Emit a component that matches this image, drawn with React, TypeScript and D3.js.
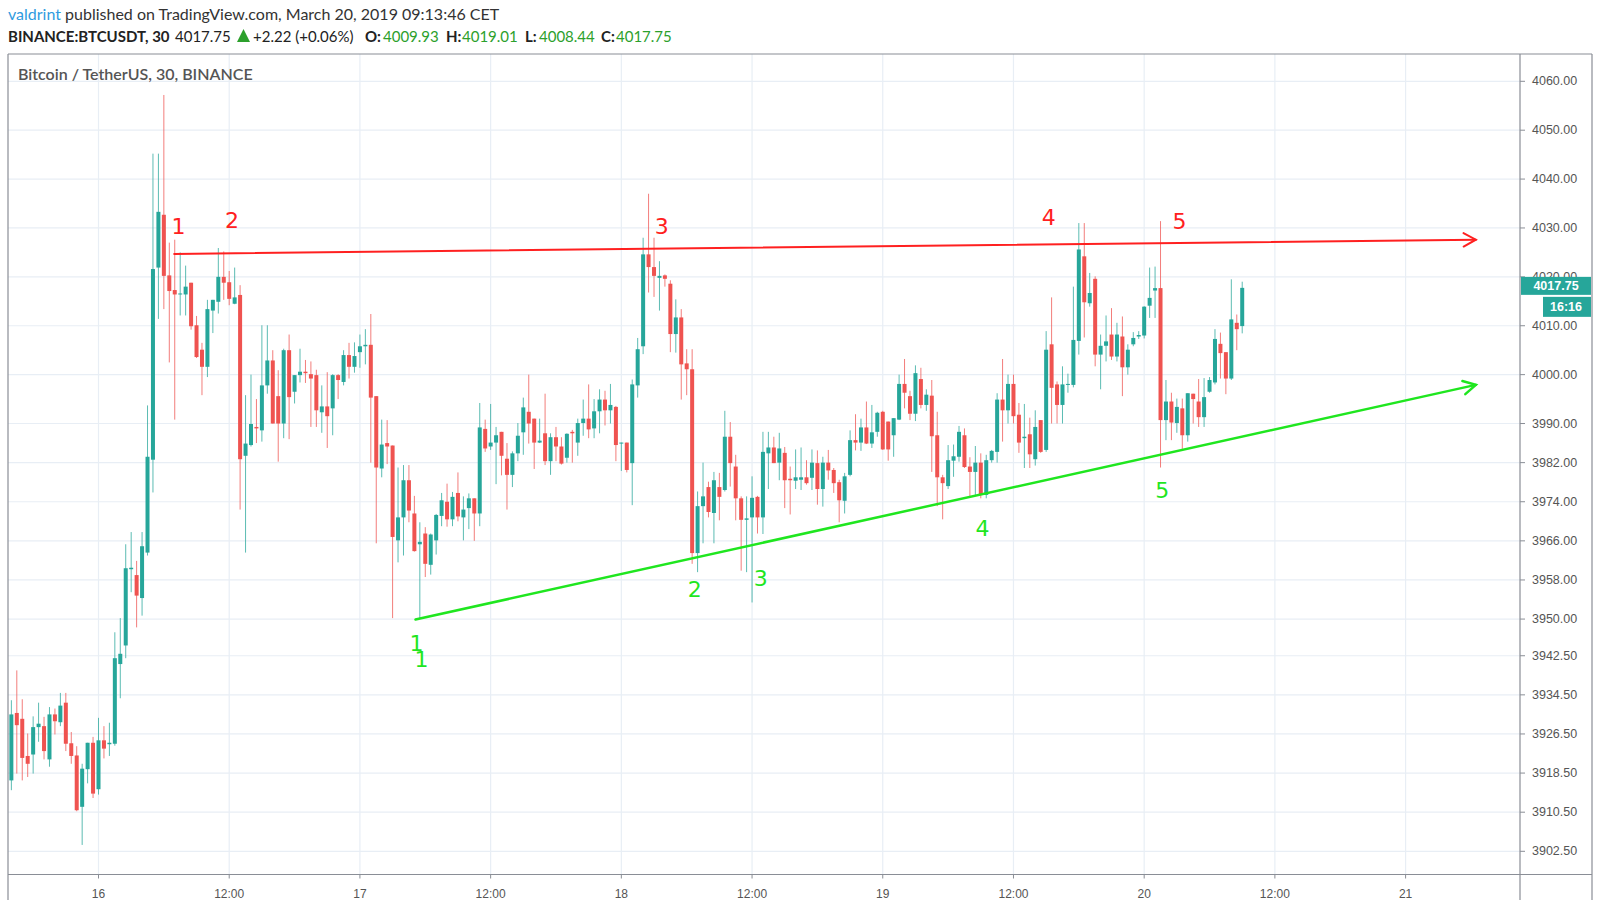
import React from "react";
import * as d3 from "d3";

// ---- data: 30-minute BTCUSDT candles, first candle 2019-03-15 16:00 ----
const firstCandle = Date.UTC(2019, 2, 15, 16, 0);
const candleMs = 30 * 60 * 1000;

const opens = [
  3917, 3930.8, 3929.6, 3922, 3922.3, 3927.9, 3928.1, 3921.3, 3930.5, 3928.9, 3932.9, 3924.6, 3922.1, 3911.6, 3919.3, 3924.7,
  3915.2, 3925.2, 3924.4, 3924.5, 3940.8, 3944.6, 3960.2, 3959, 3954.3, 3963.6, 3982.6, 4021.9, 4032.7, 4020.3, 4017.3, 4016.4,
  4016.4, 4018.8, 4010.1, 4005.1, 4001.6, 4013.1, 4014.9, 4020, 4018.9, 4014.5, 4016.3, 3983.4, 3985.6, 3989.3, 3988.6, 3997.8,
  4002.9, 3995.6, 3990, 4005, 3996.5, 3999.9, 4000.6, 4000.1, 3999.9, 3992.3, 3993.5, 3993.1, 3999.9, 3998.5, 4004, 4001.6,
  4004.6, 4005.8, 4006.1, 3995.6, 3980.8, 3986, 3985.5, 3966.1, 3970.8, 3978.4, 3971.6, 3965.3, 3967.5, 3961.1, 3966.1, 3971.1,
  3974, 3970.4, 3975.8, 3970.8, 3972.7, 3974.7, 3971.6, 3988.9, 3985.3, 3986.1, 3988.3, 3982.8, 3979.5, 3983.9, 3988.2, 3992.4,
  3991, 3986.1, 3988, 3982.3, 3987.2, 3985.3, 3983, 3988.3, 3986.1, 3990.1, 3991, 3989, 3992.5, 3994.9, 3992.7, 3993.4,
  3986, 3986.1, 3981.9, 3997.8, 4005.8, 4024.6, 4022, 4019.8, 4020.3, 4018.6, 4008.3, 4011.7, 4002.3, 4001.1, 3963.5, 3973.1,
  3977, 3971.7, 3977, 3976.4, 3987.3, 3981.2, 3974.7, 3970.3, 3970.8, 3975, 3970.8, 3983.9, 3985.1, 3982, 3984, 3978.7,
  3978.3, 3978.5, 3979, 3978.9, 3981.9, 3976.6, 3982, 3980.5, 3978, 3974.2, 3979.5, 3986.6, 3986.1, 3989.2, 3985.9, 3988.3,
  3992.4, 3990.4, 3987.6, 3990.8, 3998.1, 3995.6, 3992, 3999.1, 3993.8, 3995.7, 3987.6, 3979, 3977.2, 3982.4, 3983.2, 3987.6,
  3981.2, 3980.1, 3982, 3975.4, 3982.5, 3984.2, 3994.9, 3992.7, 3998.1, 3991.8, 3987, 3987.8, 3982.7, 3990.7, 3984.6, 4006.2,
  3998, 3993.8, 3998, 3997.9, 4006.9, 4024.2, 4014.6, 4019.6, 4004.1, 4005.9, 4008.2, 4003.7, 4007.8, 4001.5, 4006.2, 4007.8,
  4008, 4014.1, 4017.2, 4017.7, 3990.7, 3994.5, 3990.1, 3993.1, 3987.6, 3996.1, 3994.5, 3991.3, 3996.5, 3998.4, 4006.3, 4004.6,
  3999.2, 4010.6, 4009.93,
];
const highs = [
  3933.4, 3939.5, 3933.6, 3926.6, 3930.1, 3932.9, 3930, 3932, 3931.7, 3934.9, 3934.9, 3926.9, 3924, 3920.4, 3924.7, 3925.9,
  3929.8, 3928.1, 3928.8, 3947.3, 3950.2, 3965.3, 3967.8, 3961.9, 3967.8, 3993.7, 4045.2, 4045.2, 4057.2, 4027, 4027.6, 4025,
  4022.3, 4018.8, 4012, 4006.5, 4015.3, 4015.3, 4025.9, 4025.2, 4021.2, 4021.9, 4018.3, 3995.8, 4000, 3995, 4010.1, 4010.1,
  4005, 4000.9, 4005.3, 4008.2, 3999.9, 4005.3, 4003, 4002.7, 4001, 3997.8, 4000.5, 4000.1, 4000.1, 4005, 4006.5, 4006.6,
  4008.2, 4009.3, 4012.4, 3995.6, 3990.8, 3990.7, 3985.5, 3981, 3981.5, 3981.5, 3975.2, 3969.8, 3968.8, 3967.5, 3971.5, 3975.8,
  3977.7, 3976, 3980, 3975.1, 3975.7, 3974.7, 3994.2, 3990.8, 3994, 3989.3, 3988.3, 3986, 3984.3, 3990.1, 3995.3, 4000,
  3991, 3991, 3996.1, 3988, 3989.3, 3987.2, 3988, 3988.7, 3991, 3994.9, 3998, 3995, 3997, 3996.7, 3998.1, 3993.6,
  3986.1, 3986.1, 3999, 4007.5, 4028, 4037, 4028, 4023.2, 4020.5, 4019.3, 4015.4, 4013.4, 4005.2, 4005.2, 3976.1, 3982,
  3978.1, 3980.1, 3979.9, 3992.6, 3990.3, 3983.6, 3975.1, 3975.1, 3979.2, 3975.2, 3988.3, 3988.3, 3987.3, 3988.1, 3985.2, 3981.2,
  3984.7, 3985.1, 3982.5, 3984.7, 3984.5, 3983.2, 3984.6, 3980.9, 3978.5, 3979.9, 3988.6, 3991.9, 3991, 3994.5, 3993.8, 3992.4,
  3992.6, 3990.4, 3991.1, 4000, 4003.2, 3996.7, 4001.9, 4001.4, 3997, 3998.9, 3992.4, 3979.5, 3985.6, 3985.7, 3989.5, 3989,
  3983.1, 3985.4, 3983.9, 3983.6, 3984.6, 3996.2, 4003.2, 4000, 4000, 3994.2, 3994, 3991.2, 3992.7, 3990.7, 4008.9, 4015.8,
  3998.6, 4001.7, 4000.2, 4018, 4031, 4031, 4020.8, 4020.1, 4008.2, 4012.1, 4013.6, 4010.6, 4011.9, 4006.2, 4008.7, 4008.9,
  4014, 4021.9, 4022.1, 4031.4, 3998.9, 3996.3, 3995.1, 3995.1, 3996.2, 3996.1, 3999.1, 3999.3, 3999.5, 4009.3, 4008.6, 4004.6,
  4019.5, 4012.3, 4019.01,
];
const lows = [
  3915, 3918.4, 3917, 3917.7, 3918.4, 3924.9, 3921.3, 3919.8, 3926.4, 3928.1, 3923, 3920.4, 3910.7, 3903.8, 3916.4, 3913.4,
  3914.1, 3921.5, 3922, 3924.1, 3933.8, 3942, 3955.5, 3948.3, 3950.7, 3963, 3975.9, 4011.4, 4013.4, 4002.5, 3990.8, 4012.1,
  4012.1, 4009.2, 4003.4, 3995.8, 3999.5, 4008.5, 4012.5, 4015.3, 4014.2, 4014.4, 3972.4, 3963.6, 3985.3, 3986, 3986.3, 3996.1,
  3990, 3982.2, 3987, 3986.8, 3994.1, 3998.4, 3998.3, 3989.3, 3989.3, 3988.1, 3985, 3987.6, 3995, 3997.8, 3999.2, 4000.4,
  4001.4, 4002.1, 3982, 3965.5, 3979, 3981.7, 3950.2, 3961.6, 3963, 3969.8, 3963.8, 3950.2, 3958.6, 3959.1, 3963.2, 3969,
  3968.9, 3969, 3970, 3966.1, 3968.4, 3966, 3969, 3984.2, 3984.6, 3977.6, 3979.4, 3972.4, 3977, 3982.3, 3983.6, 3985.9,
  3980.7, 3986, 3981.5, 3979.5, 3982.3, 3981.6, 3982, 3982, 3983.4, 3987.5, 3987, 3987, 3988, 3989.6, 3990, 3982.3,
  3980.3, 3980, 3973.3, 3995.3, 4004.2, 4016.8, 4015.9, 4013.1, 4018, 4004.6, 4004.5, 3994.9, 3995.8, 3961.3, 3959.6, 3965.5,
  3970.8, 3965.5, 3970.2, 3976.1, 3977.1, 3970.2, 3959.9, 3959.6, 3953.4, 3967.5, 3967.4, 3976.6, 3981.9, 3978.4, 3972.7, 3971.4,
  3976.6, 3976.4, 3977.5, 3976.4, 3973.4, 3973, 3978.5, 3975.8, 3969.8, 3971.6, 3979.2, 3984.5, 3984.4, 3985.8, 3985, 3987.3,
  3984.6, 3982.4, 3983.2, 3990.7, 3993.1, 3990.7, 3990.5, 3993.1, 3992.6, 3980.1, 3973.1, 3970.4, 3976.6, 3979.1, 3982.2, 3980.9,
  3975.1, 3975.2, 3974.7, 3974.7, 3982, 3982, 3986.3, 3990, 3990, 3984, 3980.9, 3980.9, 3981.4, 3984, 3984.2, 3990,
  3990, 3990, 3996.3, 3997.4, 4004.1, 4007.6, 4013.9, 4001.7, 3997, 4002.7, 4003, 4002.7, 3995.6, 4000, 4005.8, 4007.3,
  4007.4, 4011.6, 4011.6, 3981, 3986.6, 3986.6, 3988.1, 3984.8, 3986.3, 3990, 3989.3, 3989.3, 3996.3, 3998, 3999.2, 3996,
  3998.9, 4005, 4008.44,
];
const closes = [
  3930.5, 3928.3, 3921.6, 3920.4, 3927.9, 3928.6, 3923, 3930.5, 3929.1, 3932.3, 3924.5, 3922, 3910.9, 3919.4, 3924.7, 3914.3,
  3925.2, 3923.5, 3924.7, 3942, 3942.9, 3960.4, 3960.5, 3954.8, 3964.9, 3983.2, 4021.6, 4033.3, 4020.2, 4017.1, 4016.4, 4016.6,
  4018, 4009.9, 4003.6, 4001.6, 4013.4, 4015.3, 4020, 4018.8, 4015.5, 4015.8, 3982.7, 3985.9, 3989.9, 3989, 3997.8, 4002.9,
  3990, 3990, 4005, 3995.4, 3999.9, 4000.6, 4000.3, 3999.2, 3992.7, 3993.5, 3991.5, 3999.9, 3998.9, 4004, 4001.6, 4003.8,
  4005.8, 4006.1, 3995.3, 3981, 3985.7, 3985.3, 3966.8, 3970.8, 3978.4, 3972.2, 3963.9, 3965.8, 3961.3, 3967.3, 3971.3, 3974.3,
  3970.4, 3975, 3971, 3972.4, 3974.7, 3971.6, 3989.2, 3984.9, 3986.1, 3987.6, 3983.4, 3979.5, 3983.9, 3987.5, 3993.3, 3990,
  3986.1, 3986.5, 3982.3, 3987.2, 3985.3, 3981.8, 3987.9, 3988, 3990.1, 3991, 3988.8, 3992.5, 3994.9, 3992.7, 3993.8, 3985.6,
  3986.1, 3980.5, 3998, 4005.2, 4024.6, 4022, 4020.2, 4020.2, 4019.6, 4008.3, 4011.7, 4002.1, 4001.1, 3963.5, 3973.1, 3975.1,
  3971.9, 3978.4, 3975, 3987.3, 3981.9, 3974.7, 3970.3, 3970.6, 3974.8, 3970.8, 3984.2, 3985.1, 3981.9, 3984.9, 3978.4, 3978.4,
  3979, 3979, 3977.8, 3982, 3976.6, 3982, 3980.4, 3977.8, 3974.3, 3979.2, 3986.6, 3986.1, 3989.2, 3985.9, 3988.2, 3992.2,
  3984.7, 3984.7, 3991.1, 3998.1, 3996.3, 3992, 4000.3, 3993.8, 3995.9, 3987.4, 3979, 3977.8, 3982.5, 3983.3, 3988.3, 3981.1,
  3980.1, 3982, 3975.4, 3982.5, 3984.4, 3994.9, 3992.7, 3998.1, 3991.5, 3986.1, 3987.3, 3983.7, 3989.3, 3984.2, 4005.1, 3997.3,
  3993.8, 3998, 3998.1, 4007.1, 4025.6, 4014.8, 4016.7, 4004.1, 4005.9, 4006.8, 4003.7, 4008.2, 4001.5, 4005.1, 4007.5, 4008.1,
  4013.9, 4015.7, 4017.7, 3990.7, 3994.5, 3990.2, 3993.4, 3987.6, 3996.2, 3995, 3991.3, 3995.4, 3998.9, 4007.3, 4004.4, 3999.2,
  4011.3, 4009.3, 4017.75,
];

const priceTicks = [4060, 4050, 4040, 4030, 4020, 4010, 4000, 3990, 3982, 3974, 3966, 3958, 3950, 3942.5, 3934.5, 3926.5, 3918.5, 3910.5, 3902.5];

// trend lines (time as hours after 2019-03-16 00:00, price)
const resistanceHours = [6.95, 126.45];
const resistancePrices = [4024.7, 4027.6];
const supportHours = [29.1, 126.45];
const supportPrices = [3949.9, 3997.9];

const redLabels = ["1", "2", "3", "4", "5"];
const redLabelHours = [7.35, 12.25, 51.7, 87.25, 99.25];
const redLabelPrices = [4030.3, 4031.5, 4030.3, 4032.2, 4031.3];
const greenLabels = ["1", "1", "2", "3", "4", "5"];
const greenLabelHours = [29.2, 29.65, 54.75, 60.8, 81.15, 97.65];
const greenLabelPrices = [3945.1, 3941.8, 3956.1, 3958.2, 3968.5, 3976.4];

const base16 = Date.UTC(2019, 2, 16, 0, 0);
const hoursToDate = (h: number) => new Date(base16 + h * 3600 * 1000);

const W = 1600;
const H = 900;
const frameL = 8;
const frameT = 54;
const plotR = 1520;
const frameR = 1592;
const axisY = 874.5;

const GREEN = "#26a69a";
const RED = "#ef5350";
const LINE_RED = "#ff2020";
const LINE_GREEN = "#1fe61f";

export default function App() {
  const x = d3
    .scaleUtc()
    .domain([new Date(base16), new Date(Date.UTC(2019, 2, 21, 0, 0))])
    .range([98.5, 1405.6]);
  const y = d3.scaleLinear().domain([3902.5, 4060]).range([851.3, 81.3]);

  const xTicks = d3.utcHour.every(12)!.range(new Date(base16), new Date(Date.UTC(2019, 2, 21, 0, 1)));
  const fmtTick = (d: Date) => (d.getUTCHours() === 0 ? String(d.getUTCDate()) : "12:00");

  const candles = opens.map((o, i) => ({
    t: new Date(firstCandle + i * candleMs),
    o,
    h: highs[i],
    l: lows[i],
    c: closes[i],
  }));

  const bw = 4;

  const arrow = (hours: number[], prices: number[], color: string, width: number) => {
    const x1 = x(hoursToDate(hours[0]));
    const y1 = y(prices[0]);
    const x2 = x(hoursToDate(hours[1]));
    const y2 = y(prices[1]);
    const ang = Math.atan2(y2 - y1, x2 - x1);
    const len = 14;
    const spread = 0.5;
    const ax = x2 - len * Math.cos(ang - spread);
    const ay = y2 - len * Math.sin(ang - spread);
    const bx = x2 - len * Math.cos(ang + spread);
    const by = y2 - len * Math.sin(ang + spread);
    return (
      <g stroke={color} strokeWidth={width} fill="none" strokeLinecap="round">
        <line x1={x1} y1={y1} x2={x2} y2={y2} />
        <polyline points={`${ax},${ay} ${x2},${y2} ${bx},${by}`} />
      </g>
    );
  };

  const lastClose = closes[closes.length - 1];
  const lastY = y(lastClose);

  const hdrFont = "Lato, 'Open Sans', sans-serif";
  const axisFont = "'Liberation Sans', Arial, sans-serif";

  return (
    <svg width={W} height={H} style={{ position: "absolute", left: 0, top: 0, background: "#fff" }}>
      <rect x={0} y={0} width={W} height={H} fill="#fff" />
      {/* header */}
      <text x={8} y={20} fontFamily={hdrFont} fontSize={16} fill="#333">
        <tspan fill="#2f9be0">valdrint</tspan>
        <tspan> published on TradingView.com, March 20, 2019 09:13:46 CET</tspan>
      </text>
      <g fontFamily={hdrFont} fontSize={15} fill="#222">
        <text x={8} y={42} fontWeight="bold">BINANCE:BTCUSDT, 30</text>
        <text x={175} y={42}>4017.75</text>
        <path d="M237,42 L243.5,29 L250,42 Z" fill="#2ca02c" />
        <text x={253} y={42}>+2.22 (+0.06%)</text>
        <text x={365} y={42} fontWeight="bold">O:</text>
        <text x={383} y={42} fill="#2ca02c">4009.93</text>
        <text x={446} y={42} fontWeight="bold">H:</text>
        <text x={462} y={42} fill="#2ca02c">4019.01</text>
        <text x={525} y={42} fontWeight="bold">L:</text>
        <text x={539} y={42} fill="#2ca02c">4008.44</text>
        <text x={601} y={42} fontWeight="bold">C:</text>
        <text x={616} y={42} fill="#2ca02c">4017.75</text>
      </g>

      {/* grid */}
      <g stroke="#e8eef5" strokeWidth={1.2}>
        {priceTicks.map((p) => (
          <line key={"h" + p} x1={frameL} x2={plotR} y1={y(p)} y2={y(p)} />
        ))}
        {xTicks.map((d) => (
          <line key={"v" + d.getTime()} x1={x(d)} x2={x(d)} y1={frameT} y2={axisY} />
        ))}
      </g>

      {/* frame */}
      <g stroke="#8a8e96" strokeWidth={1.2} fill="none">
        <line x1={frameL} x2={frameL} y1={frameT} y2={H} />
        <line x1={frameL} x2={frameR} y1={frameT} y2={frameT} />
        <line x1={frameR} x2={frameR} y1={frameT} y2={H} />
        <line x1={plotR} x2={plotR} y1={frameT} y2={H} />
        <line x1={frameL} x2={frameR} y1={axisY} y2={axisY} />
      </g>

      <text x={18} y={80} fontFamily={hdrFont} fontSize={16} fontWeight={600} fill="#555">
        Bitcoin / TetherUS, 30, BINANCE
      </text>

      {/* candles */}
      <defs>
        <clipPath id="plotclip">
          <rect x={frameL} y={frameT} width={plotR - frameL} height={axisY - frameT} />
        </clipPath>
      </defs>
      <g clipPath="url(#plotclip)">
        {candles.map((k, i) => {
          const cx = x(k.t);
          const col = k.c >= k.o ? GREEN : RED;
          const top = y(Math.max(k.o, k.c));
          const bot = y(Math.min(k.o, k.c));
          return (
            <g key={i}>
              <line x1={cx} x2={cx} y1={y(k.h)} y2={y(k.l)} stroke={col} strokeWidth={1} opacity={0.75} />
              <rect x={cx - bw / 2} y={top} width={bw} height={Math.max(1, bot - top)} fill={col} />
            </g>
          );
        })}
        {arrow(resistanceHours, resistancePrices, LINE_RED, 2)}
        {arrow(supportHours, supportPrices, LINE_GREEN, 2.5)}
        <g fontFamily="'DejaVu Sans', Verdana, sans-serif" fontSize={22} textAnchor="middle" dominantBaseline="central">
          {redLabels.map((s, i) => (
            <text key={"r" + i} x={x(hoursToDate(redLabelHours[i]))} y={y(redLabelPrices[i])} fill={LINE_RED}>
              {s}
            </text>
          ))}
          {greenLabels.map((s, i) => (
            <text key={"g" + i} x={x(hoursToDate(greenLabelHours[i]))} y={y(greenLabelPrices[i])} fill={LINE_GREEN}>
              {s}
            </text>
          ))}
        </g>
      </g>

      {/* y axis */}
      <g fontFamily={axisFont} fontSize={12.5} fill="#555">
        {priceTicks.map((p) => (
          <g key={"yt" + p}>
            <line x1={plotR} x2={plotR + 5} y1={y(p)} y2={y(p)} stroke="#8a8e96" />
            <text x={1532} y={y(p)} dominantBaseline="central">
              {p.toFixed(2)}
            </text>
          </g>
        ))}
      </g>
      {/* x axis */}
      <g fontFamily={axisFont} fontSize={12} fill="#555" textAnchor="middle">
        {xTicks.map((d) => (
          <g key={"xt" + d.getTime()}>
            <line x1={x(d)} x2={x(d)} y1={axisY} y2={axisY + 4} stroke="#8a8e96" />
            <text x={x(d)} y={898}>
              {fmtTick(d)}
            </text>
          </g>
        ))}
      </g>

      {/* last price tags */}
      <rect x={plotR + 1} y={lastY - 11} width={frameR - plotR - 2} height={18} fill={GREEN} />
      <text x={1556} y={lastY - 2} fontFamily={axisFont} fontSize={12.5} fontWeight="bold" fill="#fff" textAnchor="middle" dominantBaseline="central">
        {lastClose.toFixed(2)}
      </text>
      <rect x={1543} y={lastY + 9} width={frameR - 1543 - 1} height={20} fill={GREEN} />
      <text x={1566} y={lastY + 19} fontFamily={axisFont} fontSize={12.5} fontWeight="bold" fill="#fff" textAnchor="middle" dominantBaseline="central">
        16:16
      </text>
    </svg>
  );
}
